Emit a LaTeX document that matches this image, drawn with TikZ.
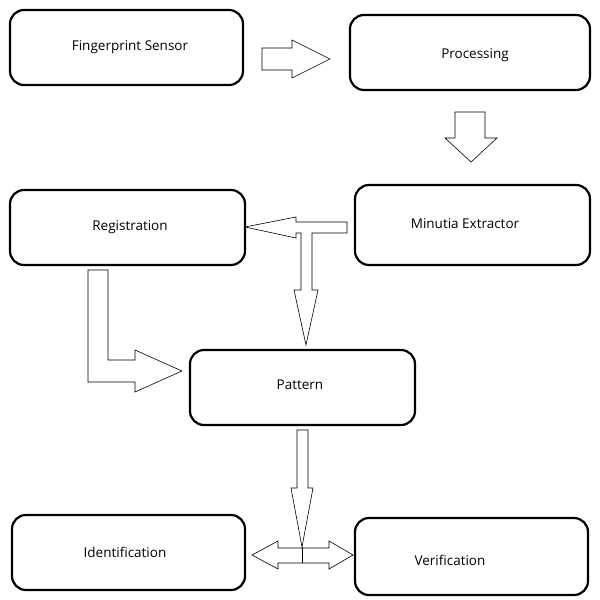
\documentclass[tikz,border=0pt]{standalone}
\usepackage{fontspec}
\setmainfont{Open Sans}
\tikzset{
  box/.style = {draw, line width=2.2pt, rounded corners=14pt},
  label/.style = {font=\fontsize{13.5}{15}\selectfont},
  fat/.style = {draw, line width=0.6pt, fill=white}
}
\begin{document}
\begin{tikzpicture}[x=1pt, y=-1pt]
\useasboundingbox (0,0) rectangle (600,600);

% boxes
\draw [box] (10,10) rectangle (243,85);
\node [label] (sensor) at (130,47) {Fingerprint Sensor};
\draw [box] (350,15) rectangle (590,90);
\node [label] (processing) at (475,55) {Processing};
\draw [box] (355,185) rectangle (590,265);
\node [label] (minutia) at (465,224) {Minutia Extractor};
\draw [box] (10,190) rectangle (245,265);
\node [label] (registration) at (130,227) {Registration};
\draw [box] (190,350) rectangle (415,425);
\node [label] (pattern) at (300,385) {Pattern};
\draw [box] (12,515) rectangle (245,590);
\node [label] (identification) at (125,552) {Identification};
\draw [box] (355,518) rectangle (588,595);
\node [label] (verification) at (450,560) {Verification};

% block arrows
\draw [fat] (262,48) -- (292,48) -- (292,40) -- (330,59) -- (292,78) -- (292,70) -- (262,70) -- cycle;
\draw [fat] (455,112) -- (485,112) -- (485,138) -- (497,138) -- (471,162) -- (445,138) -- (455,138) -- cycle;
\draw [fat] (347,222) -- (296,222) -- (296,217) -- (245,227) -- (296,238) -- (296,233) -- (301,233)
  -- (301,290) -- (294,290) -- (306,345) -- (318,290) -- (312,290) -- (312,233) -- (347,233) -- cycle;
\draw [fat] (88,270) -- (108,270) -- (108,360) -- (135,360) -- (135,350) -- (182,371) -- (135,392)
  -- (135,382) -- (88,382) -- cycle;
\draw [fat] (297,430) -- (308,430) -- (308,488) -- (313,488) -- (302,547) -- (291,488) -- (297,488) -- cycle;
\draw [fat] (278,548) -- (329,548) -- (329,541) -- (353,555) -- (329,569) -- (329,563) -- (278,563)
  -- (278,569) -- (252,555) -- (278,541) -- cycle;
\draw [line width=0.6pt] (302,547) -- (302,563);
\end{tikzpicture}
\end{document}
